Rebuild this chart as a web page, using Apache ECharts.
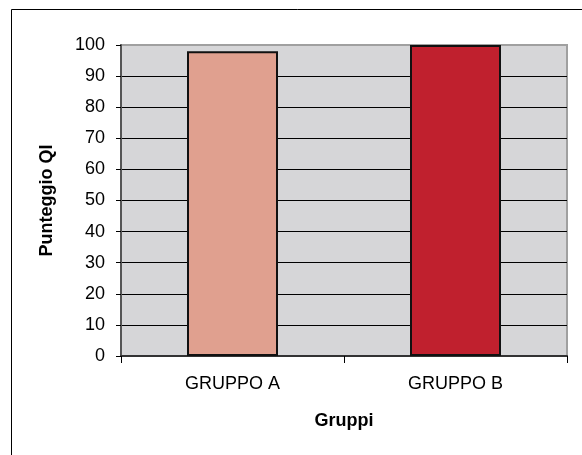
<!DOCTYPE html>
<html>
<head>
<meta charset="utf-8">
<script src="https://cdn.jsdelivr.net/npm/echarts@6/dist/echarts.min.js"></script>
<style>
  html, body { margin: 0; padding: 0; background: #fff; }
  #chart { width: 582px; height: 455px; }
</style>
</head>
<body>
<div id="chart"></div>
<script>
const categories = ['GRUPPO A', 'GRUPPO B'];
const scores = [98, 100];
const barColors = ['#e0a08f', '#c0202e'];
const yTicks = [0, 10, 20, 30, 40, 50, 60, 70, 80, 90, 100];

const chart = echarts.init(document.getElementById('chart'));

// grid lines: black, except the top one which is the gray plot border
const splitColors = yTicks.map((v, i) => (i === yTicks.length - 1 ? '#a0a0a0' : '#000'));

const option = {
    backgroundColor: '#fff',
    animation: false,
    textStyle: { fontFamily: 'Liberation Sans, Arial, sans-serif' },
    graphic: [{
        type: 'rect',
        shape: { x: 11.5, y: 9.5, width: 620, height: 500 },
        style: { fill: 'none', stroke: '#000', lineWidth: 1 },
        silent: true
    }],
    grid: {
        left: 121,
        right: 15,
        top: 45,
        bottom: 99,
        show: true,
        backgroundColor: '#d6d6d8',
        borderColor: '#a0a0a0',
        borderWidth: 2
    },
    xAxis: {
        type: 'category',
        data: categories,
        name: 'Gruppi',
        nameLocation: 'middle',
        nameGap: 56,
        nameTextStyle: { color: '#000', fontSize: 18, fontWeight: 'bold' },
        axisLine: { lineStyle: { color: '#333', width: 2 } },
        axisTick: { show: true, length: 7, lineStyle: { color: '#000', width: 1 } },
        axisLabel: { color: '#000', fontSize: 18, margin: 19 }
    },
    yAxis: {
        type: 'value',
        min: 0,
        max: 100,
        interval: 10,
        name: 'Punteggio QI',
        nameLocation: 'middle',
        nameGap: 65,
        nameTextStyle: { color: '#000', fontSize: 18, fontWeight: 'bold' },
        axisLine: { show: true, lineStyle: { color: '#555', width: 2 } },
        axisTick: { show: true, length: 5, lineStyle: { color: '#000' } },
        axisLabel: { color: '#000', fontSize: 18, margin: 16 },
        splitLine: { show: true, lineStyle: { color: splitColors, width: 1 } }
    },
    series: [{
        type: 'bar',
        data: scores.map((v, i) => ({ value: v, itemStyle: { color: barColors[i] } })),
        barWidth: 91,
        itemStyle: { borderColor: '#111', borderWidth: 2 }
    }]
};

chart.setOption(option);
</script>
</body>
</html>
